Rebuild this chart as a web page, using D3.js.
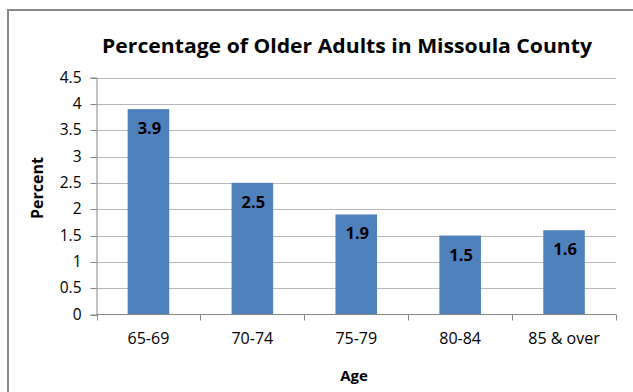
<!DOCTYPE html>
<html><head><meta charset="utf-8">
<script src="https://cdn.jsdelivr.net/npm/d3@7"></script>
<style>body{margin:0;background:#fff}svg{display:block}</style>
</head><body>
<script>
const categories = ["65-69","70-74","75-79","80-84","85 & over"];
const values = [3.9, 2.5, 1.9, 1.5, 1.6];
const yTicks = [0,0.5,1,1.5,2,2.5,3,3.5,4,4.5];
const title = "Percentage of Older Adults in Missoula County";
const xTitle = "Age", yTitle = "Percent";

const W = 633, H = 392;
const svg = d3.select("body").append("svg").attr("width", W).attr("height", H);
const font = "'Open Sans', 'Liberation Sans', sans-serif";

svg.append("rect").attr("x",8).attr("y",10).attr("width",W).attr("height",H)
  .attr("fill","#fff").attr("stroke","#898989").attr("stroke-width",2);

const x = d3.scaleBand().domain(categories).range([96.5,616]).paddingInner(0.6).paddingOuter(0.3);
const y = d3.scaleLinear().domain([0,4.5]).range([314.5,77.5]);

svg.append("g").selectAll("line").data(yTicks.filter(d=>d>0)).join("line")
  .attr("x1",96.5).attr("x2",616).attr("y1",d=>Math.round(y(d))+0.5).attr("y2",d=>Math.round(y(d))+0.5)
  .attr("stroke","#b8b8b8");

const gy = svg.append("g").attr("transform","translate(96.5,0)")
  .call(d3.axisLeft(y).tickValues(yTicks).tickSize(6).tickPadding(9).tickFormat(d=>d));
gy.select(".domain").attr("stroke","#868686");
gy.selectAll(".tick line").attr("stroke","#868686");
gy.selectAll("text").attr("font-family",font).attr("font-size",15.5).attr("fill","#000");
gy.selectAll(".tick").attr("transform",d=>`translate(0,${Math.round(y(d))+0.5})`);

svg.append("g").selectAll("rect").data(values).join("rect")
  .attr("x",(d,i)=>x(categories[i])).attr("width",x.bandwidth())
  .attr("y",d=>y(d)).attr("height",d=>y(0)-y(d)).attr("fill","#4F81BD");

const ticksX = d3.range(6).map(i=>96.5+i*(616-96.5)/5);
svg.append("line").attr("x1",96.5).attr("x2",616).attr("y1",314.5).attr("y2",314.5).attr("stroke","#868686");
svg.append("g").selectAll("line").data(ticksX).join("line")
  .attr("x1",d=>Math.round(d)+0.5).attr("x2",d=>Math.round(d)+0.5).attr("y1",314.5).attr("y2",320.5).attr("stroke","#868686");

svg.append("g").selectAll("text").data(categories).join("text")
  .attr("x",d=>x(d)+x.bandwidth()/2).attr("y",344).attr("text-anchor","middle")
  .attr("font-family",font).attr("font-size",16).text(d=>d);

svg.append("g").selectAll("text").data(values).join("text")
  .attr("x",(d,i)=>x(categories[i])+x.bandwidth()/2+1).attr("y",d=>y(d)+25).attr("text-anchor","middle")
  .attr("font-family",font).attr("font-size",16.5).attr("font-weight","bold").text(d=>d.toFixed(1));

svg.append("text").attr("x",347).attr("y",53).attr("text-anchor","middle")
  .attr("font-family",font).attr("font-size",19).attr("font-weight","bold")
  .attr("textLength",490).attr("lengthAdjust","spacingAndGlyphs").text(title);

svg.append("text").attr("x",354).attr("y",381).attr("text-anchor","middle")
  .attr("font-family",font).attr("font-size",15).attr("font-weight","bold").text(xTitle);

svg.append("text").attr("transform","translate(43,188) rotate(-90)").attr("text-anchor","middle")
  .attr("font-family",font).attr("font-size",16).attr("font-weight","bold").text(yTitle);
</script>
</body></html>
